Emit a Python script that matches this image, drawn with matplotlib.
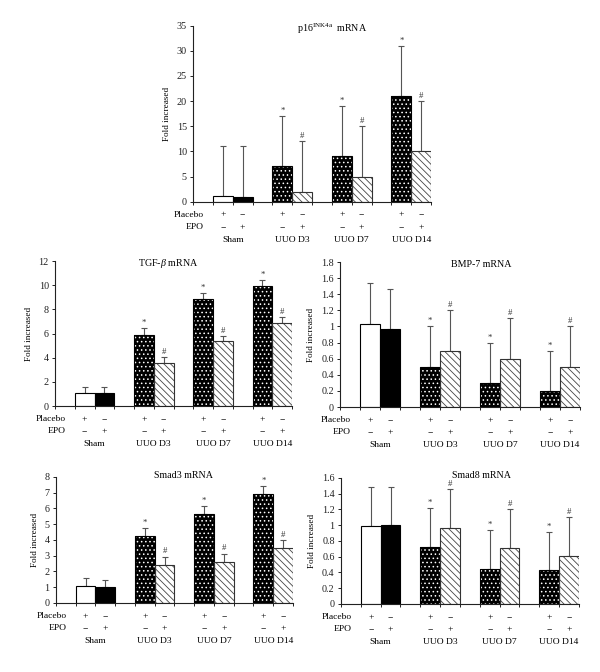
import matplotlib
matplotlib.use("Agg")
import matplotlib.pyplot as plt
from matplotlib.ticker import FuncFormatter, FixedLocator

plt.rcParams['font.family'] = ['Liberation Serif', 'DejaVu Serif']
plt.rcParams['font.size'] = 7
plt.rcParams['mathtext.fontset'] = 'custom'
plt.rcParams['mathtext.rm'] = 'Liberation Serif'
plt.rcParams['mathtext.it'] = 'Liberation Serif:italic'
plt.rcParams['hatch.linewidth'] = 0.6

# data: order = sham placebo, sham EPO, D3 placebo, D3 EPO, D7 placebo, D7 EPO, D14 placebo, D14 EPO
groups = ["Sham", "UUO D3", "UUO D7", "UUO D14"]
placebo_row = ["+", "\u2212", "+", "\u2212", "+", "\u2212", "+", "\u2212"]
epo_row = ["\u2212", "+", "\u2212", "+", "\u2212", "+", "\u2212", "+"]
marks = ["", "", "*", "#", "*", "#", "*", "#"]

p16_mean = [1.15, 1.0, 7.0, 2.0, 9.0, 5.0, 21.0, 10.0]
p16_err = [10.0, 10.0, 10.0, 10.0, 10.0, 10.0, 10.0, 10.0]

tgf_mean = [1.05, 1.05, 5.88, 3.59, 8.83, 5.35, 9.93, 6.87]
tgf_err = [0.49, 0.49, 0.55, 0.49, 0.49, 0.47, 0.47, 0.47]

bmp_mean = [1.03, 0.97, 0.50, 0.70, 0.30, 0.60, 0.20, 0.50]
bmp_err = [0.51, 0.50, 0.50, 0.50, 0.50, 0.50, 0.50, 0.50]

smad3_mean = [1.05, 0.99, 4.27, 2.42, 5.68, 2.61, 6.95, 3.52]
smad3_err = [0.53, 0.48, 0.51, 0.53, 0.49, 0.53, 0.50, 0.48]

smad8_mean = [0.99, 1.00, 0.72, 0.965, 0.45, 0.71, 0.43, 0.605]
smad8_err = [0.49, 0.49, 0.50, 0.495, 0.49, 0.49, 0.49, 0.495]

# category slots (gap slots at 0, 3, 6, 9)
pos = [1, 2, 4, 5, 7, 8, 10, 11]
group_pos = [1.5, 4.5, 7.5, 10.5]
styles = ["white", "black", "dots", "lines", "dots", "lines", "dots", "lines"]

fig = plt.figure(figsize=(6, 6.72), dpi=100)
axcol = "#222222"
lab = 6.8


def panel(rect, means, errs, ymax, ystep, title, tx, ty=0.985):
    ax = fig.add_axes(rect)
    for x, m, e, st, mk in zip(pos, means, errs, styles, marks):
        if st == "white":
            ax.bar(x, m, width=1.0, color="white", edgecolor="black", linewidth=0.8, zorder=2)
        elif st == "black":
            ax.bar(x, m, width=1.0, color="black", edgecolor="black", linewidth=0.8, zorder=2)
        elif st == "dots":
            ax.bar(x, m, width=1.0, color="black", edgecolor="white", hatch="....", linewidth=0, zorder=2)
            ax.bar(x, m, width=1.0, fill=False, edgecolor="black", linewidth=0.8, zorder=3)
        else:
            ax.bar(x, m, width=1.0, color="white", edgecolor="#444444", hatch="\\\\\\\\\\", linewidth=0, zorder=2)
            ax.bar(x, m, width=1.0, fill=False, edgecolor="#333333", linewidth=0.8, zorder=3)
        ax.errorbar(x, m, yerr=[[0], [e]], color="#555555", elinewidth=0.8, capsize=2.2,
                    capthick=0.8, zorder=1)
        if mk:
            ax.annotate(mk, (x, m + e), xytext=(0, 0.8), textcoords="offset points",
                        ha="center", va="bottom", fontsize=6.3, color="#333333")
    ax.set_xlim(-0.5, 11.5)
    ax.set_ylim(0, ymax)
    ticks = [i * ystep for i in range(int(round(ymax / ystep)) + 1)]
    ax.set_yticks(ticks)
    ax.yaxis.set_major_formatter(FuncFormatter(lambda v, p: "%g" % round(v, 2)))
    ax.xaxis.set_major_locator(FixedLocator([i + 0.5 for i in range(-1, 12)]))
    ax.set_xticklabels([])
    ax.tick_params(axis="both", direction="out", length=2.5, width=0.7, colors=axcol,
                   labelsize=7.3, pad=2)
    for s in ["top", "right"]:
        ax.spines[s].set_visible(False)
    for s in ["left", "bottom"]:
        ax.spines[s].set_linewidth(0.8)
        ax.spines[s].set_color(axcol)
    ax.set_ylabel("Fold increased", fontsize=6.6, labelpad=4)
    ax.text(tx, ty, title, transform=ax.transAxes, ha="center", va="center", fontsize=7.2)
    # sign rows and group labels under the axis
    tr = ax.get_xaxis_transform()
    ax.annotate("Placebo", (0.05, 0), xycoords=tr, xytext=(0, -9.4), textcoords="offset points",
                ha="right", va="center", fontsize=lab)
    ax.annotate("EPO", (0.05, 0), xycoords=tr, xytext=(0, -18.3), textcoords="offset points",
                ha="right", va="center", fontsize=lab)
    for x, a, b in zip(pos, placebo_row, epo_row):
        ax.annotate(a, (x, 0), xycoords=tr, xytext=(0, -9.4), textcoords="offset points",
                    ha="center", va="center", fontsize=lab)
        ax.annotate(b, (x, 0), xycoords=tr, xytext=(0, -18.3), textcoords="offset points",
                    ha="center", va="center", fontsize=lab)
    for g, x in zip(groups, group_pos):
        ax.annotate(g, (x, 0), xycoords=tr, xytext=(0, -27.5), textcoords="offset points",
                    ha="center", va="center", fontsize=lab)
    return ax


panel([0.3217, 0.6999, 0.3967, 0.2619], p16_mean, p16_err, 35, 5,
      r"p16$^{\mathrm{INK4a}}$  mRNA", 0.584)
panel([0.0917, 0.3958, 0.395, 0.2158], tgf_mean, tgf_err, 12, 2,
      r"TGF-$\beta$ mRNA", 0.477)
panel([0.5667, 0.3943, 0.4, 0.2158], bmp_mean, bmp_err, 1.8, 0.2,
      "BMP-7 mRNA", 0.59)
panel([0.0933, 0.1027, 0.395, 0.1875], smad3_mean, smad3_err, 8, 1,
      "Smad3 mRNA", 0.54, 1.01)
panel([0.5683, 0.1012, 0.3967, 0.1875], smad8_mean, smad8_err, 1.6, 0.2,
      "Smad8 mRNA", 0.59, 1.02)

fig.savefig("out.png", dpi=100)
